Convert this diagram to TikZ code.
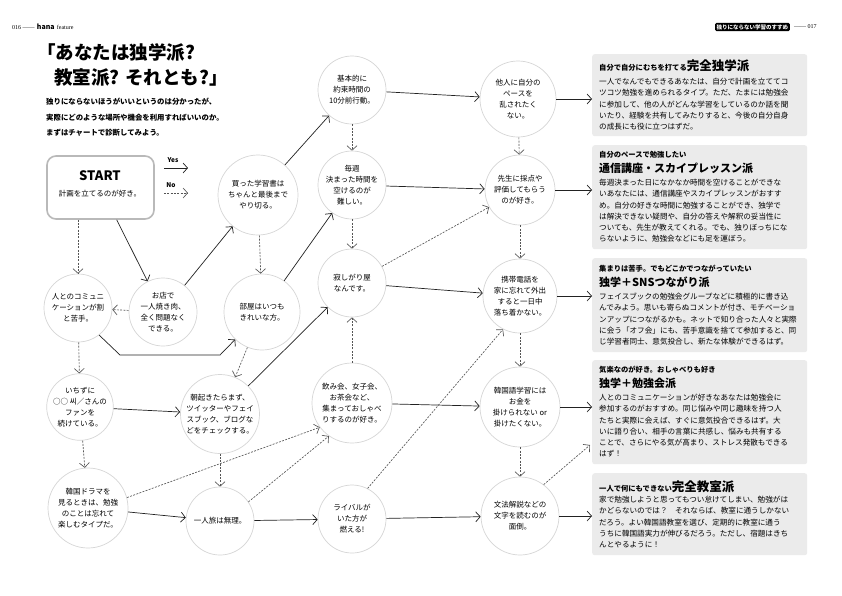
\documentclass[tikz,border=0pt]{standalone}
\usepackage{fontspec}
\setmainfont{Noto Sans CJK JP}
\newfontfamily\seriffam{Liberation Serif}
\usetikzlibrary{arrows.meta}
\definecolor{circ}{HTML}{D6D6D6}
\definecolor{boxfill}{HTML}{EBEBEB}
\definecolor{ln}{HTML}{222222}
\definecolor{dl}{HTML}{555555}
\tikzset{
  q/.style={circle, draw=circ, line width=0.7pt, align=center, inner sep=0pt, font=\fontsize{7.5}{11}\selectfont},
  yesarr/.style={draw=ln, line width=0.7pt, -{Straight Barb[length=4.5pt,width=10pt]}},
  noarr/.style={draw=dl, line width=0.65pt, dash pattern=on 2pt off 1.3pt, -{Straight Barb[length=4.5pt,width=10pt]}},
  res/.style={fill=boxfill, rounded corners=2.5pt, minimum width=215pt, anchor=north west, inner sep=0pt},
  reshead/.style={anchor=west, inner sep=0pt, font=\bfseries\fontsize{7.3}{9}\selectfont},
  restitle/.style={anchor=west, inner sep=0pt, font=\bfseries\fontsize{11}{12}\selectfont},
  resbody/.style={anchor=north west, align=left, inner sep=0pt, font=\fontsize{7.6}{11.2}\selectfont},
}
\begin{document}
\begin{tikzpicture}[x=1pt,y=-1pt]
\fill[white] (0,0) rectangle (842,595);
\useasboundingbox (0,0) rectangle (842,595);

% header
\node[anchor=west, inner sep=0pt] (pgl) at (12,27) {{\seriffam\fontsize{6}{7}\selectfont 016 ——} {\bfseries\fontsize{7}{8}\selectfont hana} {\seriffam\fontsize{6}{7}\selectfont feature}};
\node[anchor=east, fill=black, text=white, rounded corners=1.5pt, inner sep=1.6pt, font=\bfseries\fontsize{5.5}{6}\selectfont] (tag) at (790,27) {独りにならない学習のすすめ};
\node[anchor=west, inner sep=0pt, font=\seriffam\fontsize{6}{7}\selectfont] (pgr) at (794,27) {—— 017};

% title
\node[anchor=west, inner sep=0pt, font=\bfseries\fontsize{18.5}{22}\selectfont] (title1) at (37,52) {「あなたは独学派?};
\node[anchor=west, inner sep=0pt, font=\bfseries\fontsize{18.5}{22}\selectfont] (title2) at (54,78) {教室派? それとも?」};
\node[anchor=north west, align=left, inner sep=0pt, font=\bfseries\fontsize{7.4}{15.5}\selectfont] (sub) at (46,98) {独りにならないほうがいいというのは分かったが、\\実際にどのような場所や機会を利用すればいいのか。\\まずはチャートで診断してみよう。};

% start
\node[draw=gray!55, line width=1.6pt, rounded corners=9pt, minimum width=107pt, minimum height=63pt] (start) at (100.5,187.5) {};
\node[inner sep=0pt, font=\bfseries\fontsize{13}{14}\selectfont] (st) at (100,176) {START};
\node[inner sep=0pt, font=\fontsize{7.5}{9}\selectfont] (stq) at (100,194) {計画を立てるのが好き。};

% legend
\coordinate (ys) at (164,168); \coordinate (ye) at (188,168);
\coordinate (ns) at (164,193); \coordinate (ne) at (188,193);
\draw[yesarr] (ys) -- (ye);
\draw[noarr] (ns) -- (ne);
\node[inner sep=0pt, font=\bfseries\fontsize{6.5}{7}\selectfont] (yl) at (173,160) {Yes};
\node[inner sep=0pt, font=\bfseries\fontsize{6.5}{7}\selectfont] (nl) at (171,185) {No};

% questions
\node[q, minimum size=80pt] (n1) at (258,195) {買った学習書は\\ちゃんと最後まで\\やり切る。};
\node[q, minimum size=68pt] (n2) at (352,90) {基本的に\\約束時間の\\10分前行動。};
\node[q, minimum size=68pt] (n3) at (352,185) {毎週\\決まった時間を\\空けるのが\\難しい。};
\node[q, minimum size=76pt] (n4) at (518,99) {他人に自分の\\ペースを\\乱されたく\\ない。};
\node[q, minimum size=70pt] (n5) at (520,190) {先生に採点や\\評価してもらう\\のが好き。};
\node[q, minimum size=68pt] (n6) at (352,283) {寂しがり屋\\なんです。};
\node[q, minimum size=74pt] (n7) at (520,296) {携帯電話を\\家に忘れて外出\\すると一日中\\落ち着かない。};
\node[q, minimum size=68pt] (n8) at (163,312) {お店で\\一人焼き肉、\\全く問題なく\\できる。};
\node[q, minimum size=68pt] (n9) at (78,308) {人とのコミュニ\\ケーションが割\\と苦手。};
\node[q, minimum size=76pt] (n10) at (262,312) {部屋はいつも\\きれいな方。};
\node[q, minimum size=66pt] (n11) at (80,407) {いちずに\\○○ 씨／さんの\\ファンを\\続けている。};
\node[q, minimum size=79pt] (n12) at (220,414) {朝起きたらまず、\\ツイッターやフェイ\\スブック、ブログな\\どをチェックする。};
\node[q, minimum size=80pt] (n13) at (88,508) {韓国ドラマを\\見るときは、勉強\\のことは忘れて\\楽しむタイプだ。};
\node[q, minimum size=68pt] (n14) at (220,521) {一人旅は無理。};
\node[q, minimum size=80pt] (n15) at (352,403) {飲み会、女子会、\\お茶会など、\\集まっておしゃべ\\りするのが好き。};
\node[q, minimum size=68pt] (n16) at (352,519) {ライバルが\\いた方が\\燃える!};
\node[q, minimum size=80pt] (n17) at (520,407) {韓国語学習には\\お金を\\掛けられない or\\掛けたくない。};
\node[q, minimum size=78pt] (n18) at (520,516) {文法解説などの\\文字を読むのが\\面倒。};

% result boxes
\node[res, minimum height=82pt] (r1) at (592,54) {};
\node[reshead] (h1) at (599,66) {自分で自分にむちを打てる{\fontsize{12.5}{13}\selectfont 完全独学派}};
\node[resbody] (b1) at (599,78) {一人でなんでもできるあなたは、自分で計画を立ててコ\\ツコツ勉強を進められるタイプ。ただ、たまには勉強会\\に参加して、他の人がどんな学習をしているのか話を聞\\いたり、経験を共有してみたりすると、今後の自分自身\\の成長にも役に立つはずだ。};

\node[res, minimum height=104pt] (r2) at (592,145) {};
\node[reshead] (h2) at (599,155) {自分のペースで勉強したい};
\node[restitle] (tt2) at (599,168.5) {通信講座・スカイプレッスン派};
\node[resbody] (b2) at (599,179) {毎週決まった日になかなか時間を空けることができな\\いあなたには、通信講座やスカイプレッスンがおすす\\め。自分の好きな時間に勉強することができ、独学で\\は解決できない疑問や、自分の答えや解釈の妥当性に\\ついても、先生が教えてくれる。でも、独りぼっちにな\\らないように、勉強会などにも足を運ぼう。};

\node[res, minimum height=94pt] (r3) at (592,258) {};
\node[reshead] (h3) at (599,269) {集まりは苦手。でもどこかでつながっていたい};
\node[restitle] (tt3) at (599,282) {独学＋SNSつながり派};
\node[resbody] (b3) at (599,293) {フェイスブックの勉強会グループなどに積極的に書き込\\んでみよう。思いも寄らぬコメントが付き、モチベーショ\\ンアップにつながるかも。ネットで知り合った人々と実際\\に会う「オフ会」にも、苦手意識を捨てて参加すると、同\\じ学習者同士、意気投合し、新たな体験ができるはず。};

\node[res, minimum height=104pt] (r4) at (592,360) {};
\node[reshead] (h4) at (599,370) {気楽なのが好き。おしゃべりも好き};
\node[restitle] (tt4) at (599,383.5) {独学＋勉強会派};
\node[resbody] (b4) at (599,394) {人とのコミュニケーションが好きなあなたは勉強会に\\参加するのがおすすめ。同じ悩みや同じ趣味を持つ人\\たちと実際に会えば、すぐに意気投合できるはず。大\\いに語り合い、相手の言葉に共感し、悩みも共有する\\ことで、さらにやる気が高まり、ストレス発散もできる\\はず！};

\node[res, minimum height=82pt] (r5) at (592,473) {};
\node[reshead] (h5) at (599,487) {一人で何にもできない{\fontsize{12.5}{13}\selectfont 完全教室派}};
\node[resbody] (b5) at (599,496) {家で勉強しようと思ってもつい怠けてしまい、勉強がは\\かどらないのでは？　それならば、教室に通うしかない\\だろう。よい韓国語教室を選び、定期的に教室に通う\\うちに韓国語実力が伸びるだろう。ただし、宿題はきち\\んとやるように！};

% connectors
\coordinate (k1) at (120,355);
\coordinate (k2) at (220,355);
\coordinate (r4in) at (590,445);

\draw[yesarr] (start) -- (n8);
\draw[noarr] (start.south -| n9) -- (n9);
\draw[noarr] (n8) -- (n9);
\draw[yesarr] (n8) -- (n1);
\draw[yesarr] (n1) -- (n2);
\draw[noarr] (n1) -- (n10);
\draw[yesarr] (n2) -- (n4);
\draw[noarr] (n2) -- (n3);
\draw[yesarr] (n3) -- (n5);
\draw[noarr] (n3) -- (n6);
\draw[yesarr] (n10) -- (n3);
\draw[noarr] (n10) -- (n12);
\draw[yesarr] (n9.-52) -- (k1) -- (k2) -- (n10);
\draw[noarr] (n9) -- (n11);
\draw[yesarr] (n11) -- (n12);
\draw[noarr] (n11) -- (n13);
\draw[yesarr] (n12) -- (n6);
\draw[noarr] (n12) -- (n14);
\draw[yesarr] (n13) -- (n14);
\draw[noarr] (n13.15) -- (n15.217);
\draw[yesarr] (n14) -- (n16);
\draw[noarr] (n14.34) -- (n15.235);
\draw[noarr] (n15) -- (n6);
\draw[yesarr] (n15) -- (n17);
\draw[noarr] (n6) -- (n5);
\draw[yesarr] (n6) -- (n7);
\draw[yesarr] (n16) -- (n18);
\draw[noarr] (n16.63) -- (n7.243);
\draw[noarr] (n4) -- (n5);
\draw[noarr] (n5) -- (n7);
\draw[noarr] (n7) -- (n17);
\draw[noarr] (n17) -- (n18);
\draw[yesarr] (n4.east) -- (n4.east -| r1.west);
\draw[yesarr] (n5.east) -- (n5.east -| r2.west);
\draw[yesarr] (n7.east) -- (n7.east -| r3.west);
\draw[yesarr] (n17.east) -- (n17.east -| r4.west);
\draw[yesarr] (n18.east) -- (n18.east -| r5.west);
\draw[noarr] (n18.53) -- (r4in);
\end{tikzpicture}
\end{document}
